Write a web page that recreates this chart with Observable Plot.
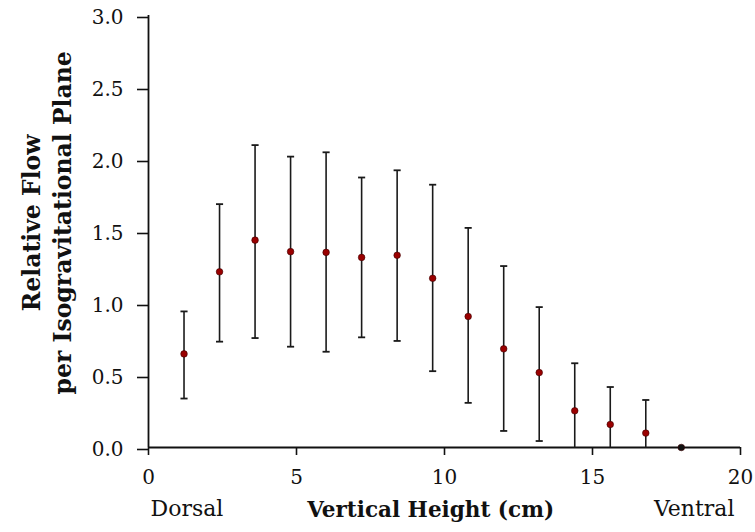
<!DOCTYPE html>
<html>
<head>
<meta charset="utf-8">
<script src="https://cdn.jsdelivr.net/npm/d3@7"></script>
<script src="https://cdn.jsdelivr.net/npm/@observablehq/plot@0.6"></script>
<style>
  html, body { margin: 0; padding: 0; background: #fff; }
  #chart svg { display: block; }
</style>
</head>
<body>
<div id="chart"></div>
<script>
const heights = [1.2, 2.4, 3.6, 4.8, 6.0, 7.2, 8.4, 9.6, 10.8, 12.0, 13.2, 14.4, 15.6, 16.8, 18.0];
const meanFlow = [0.65, 1.22, 1.44, 1.36, 1.355, 1.32, 1.335, 1.175, 0.91, 0.685, 0.52, 0.255, 0.16, 0.10, 0.0];
const upperFlow = [0.945, 1.69, 2.10, 2.02, 2.05, 1.875, 1.925, 1.825, 1.525, 1.26, 0.975, 0.585, 0.42, 0.33, 0.0];
const lowerFlow = [0.34, 0.735, 0.76, 0.70, 0.665, 0.765, 0.74, 0.53, 0.31, 0.115, 0.045, 0.0, 0.0, 0.0, 0.0];
const xTicks = [0, 5, 10, 15, 20];
const yTicks = [0, 0.5, 1.0, 1.5, 2.0, 2.5, 3.0];

const rows = heights.map((h, i) => ({h, mean: meanFlow[i], hi: upperFlow[i], lo: lowerFlow[i]}));
const bars = rows.filter(d => d.hi > d.lo);
const capHalf = 0.12;

const serif = "'DejaVu Serif', serif";

const chart = Plot.plot({
  width: 755,
  height: 532,
  marginLeft: 148,
  marginRight: 15,
  marginTop: 15,
  marginBottom: 85,
  style: {fontFamily: serif, fontSize: "20px", color: "#111", background: "#fff"},
  x: {domain: [0, 20], ticks: xTicks, tickFormat: d => String(d)},
  y: {domain: [0, 3], ticks: yTicks, tickFormat: d => d.toFixed(1)},
  marks: [
    Plot.axisX({ticks: xTicks, tickFormat: d => String(d), tickSize: 8, tickPadding: 14, label: null, fontSize: 20, strokeWidth: 1.6}),
    Plot.axisY({ticks: yTicks, tickFormat: d => d.toFixed(1), tickSize: 11, tickPadding: 14, label: null, fontSize: 20, dy: 2, strokeWidth: 1.6}),
    Plot.ruleY([0], {stroke: "#111", strokeWidth: 1.8}),
    Plot.ruleX([0], {stroke: "#111", strokeWidth: 1.8}),
    Plot.link(bars, {x1: "h", x2: "h", y1: "lo", y2: "hi", stroke: "#1a1a1a", strokeWidth: 1.6}),
    Plot.link(bars, {x1: d => d.h - capHalf, x2: d => d.h + capHalf, y1: "hi", y2: "hi", stroke: "#1a1a1a", strokeWidth: 1.8}),
    Plot.link(bars.filter(d => d.lo > 0), {x1: d => d.h - capHalf, x2: d => d.h + capHalf, y1: "lo", y2: "lo", stroke: "#1a1a1a", strokeWidth: 1.8}),
    Plot.dot(rows, {x: "h", y: "mean", r: 3.3, fill: d => d.mean > 0 ? "#9a0000" : "#111", stroke: "#3a0000", strokeWidth: 0.6}),
    Plot.text(["Dorsal"], {x: 0, frameAnchor: "bottom", textAnchor: "start", dx: 2, dy: 68, fontSize: 22, fill: "#111"}),
    Plot.text(["Ventral"], {x: 20, frameAnchor: "bottom", textAnchor: "end", dx: -6, dy: 68, fontSize: 22, fill: "#111"}),
    Plot.text(["Vertical Height (cm)"], {x: 9.53, frameAnchor: "bottom", dy: 69, fontSize: 21.5, fontWeight: "bold", fill: "#111"}),
    Plot.text(["Relative Flow\nper Isogravitational Plane"], {y: 1.56, frameAnchor: "left", textAnchor: "middle", lineAnchor: "middle", rotate: -90, dx: -103, lineHeight: 1.32, fontSize: 23.5, fontWeight: "bold", fill: "#111"})
  ]
});
document.getElementById("chart").appendChild(chart);
</script>
</body>
</html>
